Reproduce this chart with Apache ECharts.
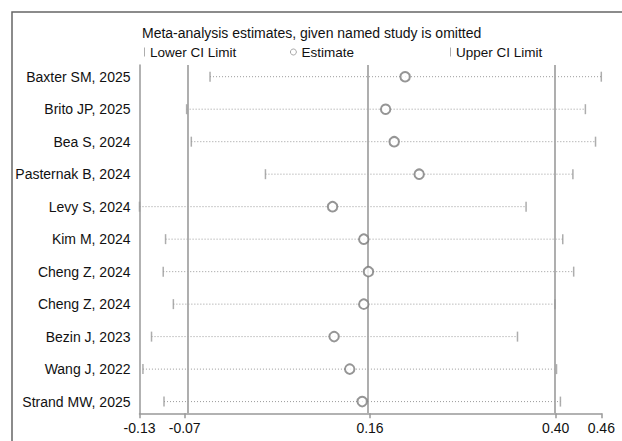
<!DOCTYPE html>
<html>
<head>
<meta charset="utf-8">
<script src="https://cdn.jsdelivr.net/npm/echarts@6/dist/echarts.min.js"></script>
<style>
  html, body { margin: 0; padding: 0; background: #fff; }
  #main { width: 622px; height: 441px; }
</style>
</head>
<body>
<div id="main"></div>
<script>
// leave-one-out estimates
var studies = ['Baxter SM, 2025', 'Brito JP, 2025', 'Bea S, 2024', 'Pasternak B, 2024', 'Levy S, 2024',
               'Kim M, 2024', 'Cheng Z, 2024', 'Cheng Z, 2024', 'Bezin J, 2023', 'Wang J, 2022', 'Strand MW, 2025'];
var estimates = [0.208, 0.183, 0.194, 0.226, 0.115, 0.155, 0.161, 0.155, 0.117, 0.137, 0.153];
var lowerCI = [-0.042, -0.072, -0.066, 0.029, -0.1324, -0.099, -0.102, -0.089, -0.117, -0.128, -0.101];
var upperCI = [0.4594, 0.439, 0.452, 0.423, 0.363, 0.410, 0.424, 0.400, 0.352, 0.402, 0.407];
var overall = [-0.0745, 0.163, 0.401];   // lower CI, estimate, upper CI of the full analysis
var tickValues = [-0.1324, -0.0745, 0.163, 0.401, 0.4594];
var tickLabels = ['-0.13', '-0.07', '0.16', '0.40', '0.46'];

var font = 'Liberation Sans, Arial, sans-serif';
var rows = studies.map(function (s, i) { return i + 1; });

function pts(arr) {
    return arr.map(function (v, i) { return [v, i + 1]; });
}

var myChart = echarts.init(document.getElementById('main'), null, {renderer: 'svg'});
var option = {
    animation: false,
    title: {
        text: 'Meta-analysis estimates, given named study is omitted',
        left: 137, top: 21,
        textStyle: {fontFamily: font, fontSize: 14, fontWeight: 'normal', color: '#111'}
    },
    legend: [
        {left: 139, top: 40, itemWidth: 1, itemHeight: 9, data: [{name: 'Lower CI Limit', icon: 'rect'}],
         textStyle: {fontFamily: font, fontSize: 13.5, color: '#111'}},
        {left: 285, top: 40, itemWidth: 6, itemHeight: 6,
         data: [{name: 'Estimate', icon: 'circle', itemStyle: {color: '#fff', borderColor: '#777', borderWidth: 0.8}}],
         textStyle: {fontFamily: font, fontSize: 13.5, color: '#111'}},
        {left: 445, top: 40, itemWidth: 1, itemHeight: 9, data: [{name: 'Upper CI Limit', icon: 'rect'}],
         textStyle: {fontFamily: font, fontSize: 13.5, color: '#111'}}
    ],
    grid: {show: false, left: 139.5, right: 20.7, top: 65, bottom: 27.7},
    xAxis: {
        type: 'value', position: 'bottom',
        min: tickValues[0], max: tickValues[tickValues.length - 1],
        axisLine: {onZero: false, lineStyle: {color: '#999', width: 1.5}},
        axisTick: {show: true, customValues: tickValues, length: 5, lineStyle: {color: '#999', width: 1.5}},
        axisLabel: {
            customValues: tickValues, margin: 8,
            fontFamily: font, fontSize: 14, color: '#111',
            formatter: function (v) {
                var k = tickValues.indexOf(v);
                return k >= 0 ? tickLabels[k] : '';
            }
        },
        splitLine: {show: false}
    },
    yAxis: {
        type: 'value', inverse: true, min: 0.64, max: 11.36, position: 'left',
        axisLine: {show: true, onZero: false, lineStyle: {color: '#999', width: 1.5}},
        axisTick: {show: false},
        axisLabel: {
            customValues: rows, margin: 9,
            fontFamily: font, fontSize: 14, color: '#111',
            formatter: function (v) { return studies[Math.round(v) - 1]; }
        },
        splitLine: {show: false}
    },
    graphic: [
        {type: 'polyline', shape: {points: [[12, 441], [12, 12], [622, 12]]},
         style: {stroke: '#666', lineWidth: 1.5, fill: null}, silent: true}
    ],
    series: [
        {
            name: 'range', type: 'custom', silent: true, z: 1,
            data: studies.map(function (s, i) { return [lowerCI[i], upperCI[i], i + 1]; }),
            encode: {x: [0, 1], y: 2},
            renderItem: function (params, api) {
                var a = api.coord([api.value(0), api.value(2)]);
                var b = api.coord([api.value(1), api.value(2)]);
                return {
                    type: 'line',
                    shape: {x1: a[0], y1: a[1], x2: b[0], y2: b[1]},
                    style: {stroke: '#9a9a9a', lineWidth: 1, lineDash: [1, 2]}
                };
            }
        },
        {
            name: 'Lower CI Limit', type: 'scatter', z: 3,
            symbol: 'rect', symbolSize: [1.5, 10],
            itemStyle: {color: '#999'},
            data: pts(lowerCI),
            markLine: {
                silent: true, symbol: 'none', label: {show: false}, z: 2,
                lineStyle: {color: '#a6a6a6', width: 1.8, type: 'solid'},
                data: overall.map(function (v) { return {xAxis: v}; })
            }
        },
        {
            name: 'Upper CI Limit', type: 'scatter', z: 3,
            symbol: 'rect', symbolSize: [1.5, 10],
            itemStyle: {color: '#999'},
            data: pts(upperCI)
        },
        {
            name: 'Estimate', type: 'scatter', z: 4,
            symbol: 'emptyCircle', symbolSize: 9.5,
            itemStyle: {color: '#7a7a7a', borderColor: '#7a7a7a', borderWidth: 1},
            data: pts(estimates)
        }
    ]
};
myChart.setOption(option);
window.onresize = myChart.resize;
</script>
</body>
</html>
